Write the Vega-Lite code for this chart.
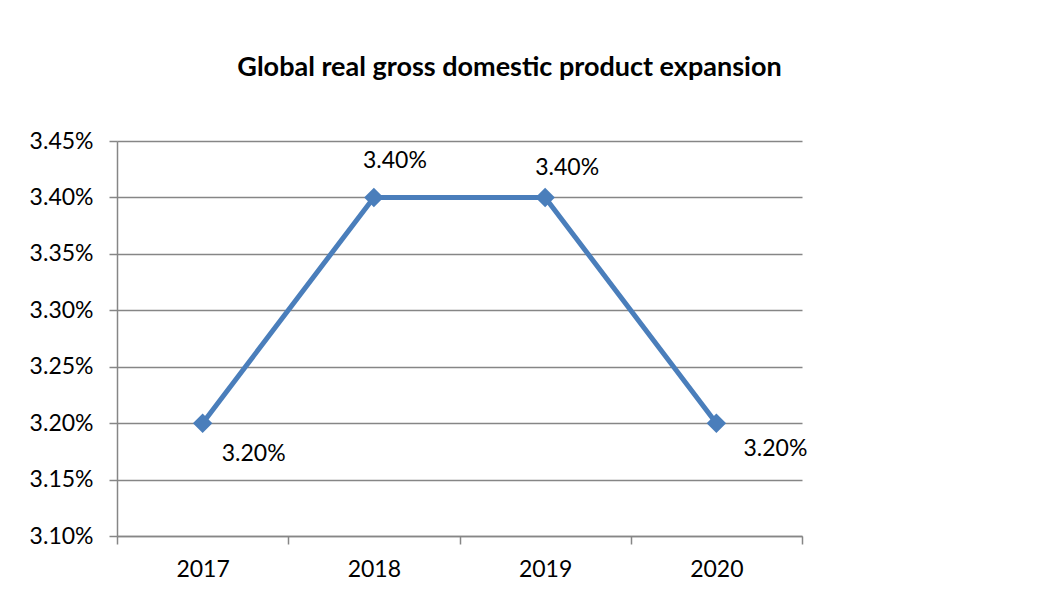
{
  "$schema": "https://vega.github.io/schema/vega-lite/v6.json",
  "width": 685,
  "height": 395,
  "autosize": "none",
  "padding": {"left": 117, "top": 141, "right": 235, "bottom": 61},
  "background": "white",
  "title": {
    "text": "Global real gross domestic product expansion",
    "font": "Lato",
    "fontSize": 27,
    "fontWeight": "bold",
    "color": "black",
    "anchor": "middle",
    "dx": 50,
    "offset": 48
  },
  "data": {
    "values": [
      {"year": "2017", "growth": 0.032},
      {"year": "2018", "growth": 0.034},
      {"year": "2019", "growth": 0.034},
      {"year": "2020", "growth": 0.032}
    ]
  },
  "encoding": {
    "x": {
      "field": "year",
      "type": "ordinal",
      "scale": {"type": "band", "paddingInner": 0, "paddingOuter": 0},
      "axis": {
        "title": null,
        "labelAngle": 0,
        "tickBand": "extent",
        "grid": false,
        "domainColor": "#868686",
        "domainWidth": 1.5,
        "tickColor": "#868686",
        "tickWidth": 1.5,
        "tickSize": 8,
        "labelFont": "Lato",
        "labelFontSize": 23,
        "labelColor": "black",
        "labelPadding": 14
      }
    },
    "y": {
      "field": "growth",
      "type": "quantitative",
      "scale": {"domain": [0.031, 0.0345], "nice": false, "zero": false},
      "axis": {
        "title": null,
        "values": [0.031, 0.0315, 0.032, 0.0325, 0.033, 0.0335, 0.034, 0.0345],
        "format": ".2%",
        "grid": true,
        "gridColor": "#868686",
        "gridWidth": 1.5,
        "domainColor": "#868686",
        "domainWidth": 1.5,
        "tickColor": "#868686",
        "tickWidth": 1.5,
        "tickSize": 8,
        "labelFont": "Lato",
        "labelFontSize": 23,
        "labelColor": "black",
        "labelPadding": 16
      }
    }
  },
  "layer": [
    {
      "mark": {"type": "line", "color": "#4A7EBB", "strokeWidth": 5}
    },
    {
      "mark": {"type": "point", "shape": "diamond", "filled": true, "size": 380, "color": "#4A7EBB", "opacity": 1}
    },
    {
      "transform": [{"filter": "datum.year == '2017'"}],
      "mark": {"type": "text", "font": "Lato", "fontSize": 23, "color": "black", "dx": 51, "dy": 31},
      "encoding": {"text": {"field": "growth", "format": ".2%"}}
    },
    {
      "transform": [{"filter": "datum.year == '2018'"}],
      "mark": {"type": "text", "font": "Lato", "fontSize": 23, "color": "black", "dx": 21, "dy": -36},
      "encoding": {"text": {"field": "growth", "format": ".2%"}}
    },
    {
      "transform": [{"filter": "datum.year == '2019'"}],
      "mark": {"type": "text", "font": "Lato", "fontSize": 23, "color": "black", "dx": 22, "dy": -29},
      "encoding": {"text": {"field": "growth", "format": ".2%"}}
    },
    {
      "transform": [{"filter": "datum.year == '2020'"}],
      "mark": {"type": "text", "font": "Lato", "fontSize": 23, "color": "black", "dx": 59, "dy": 26},
      "encoding": {"text": {"field": "growth", "format": ".2%"}}
    }
  ],
  "config": {"view": {"stroke": null}}
}
